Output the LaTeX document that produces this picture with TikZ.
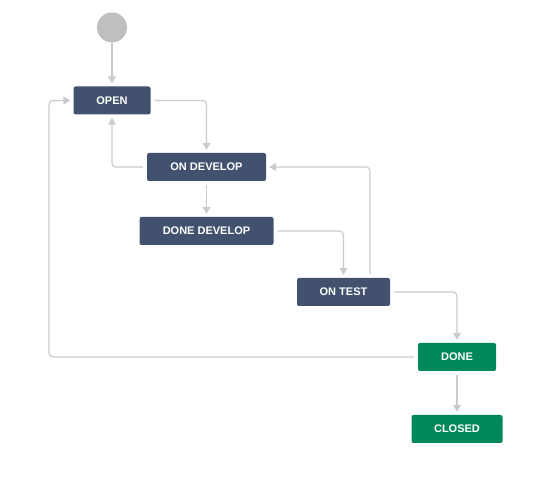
\documentclass[tikz,border=0pt]{standalone}
\usepackage{fontspec}
\setmainfont{Liberation Sans}
\usetikzlibrary{arrows.meta,calc}
\definecolor{stblue}{HTML}{42526E}
\definecolor{stgreen}{HTML}{00875A}
\definecolor{lnk}{HTML}{C8CBD0}
\definecolor{startc}{HTML}{BFBFBF}
\tikzset{
  state/.style={rectangle, rounded corners=2pt, text=white, inner sep=0pt,
    font=\fontsize{11}{13}\selectfont\bfseries, minimum height=28pt},
  todo/.style={state, fill=stblue},
  fin/.style={state, fill=stgreen},
  conn/.style={draw=lnk, line width=1.2pt, rounded corners=4pt,
    -{Triangle[width=8pt,length=7pt]}, shorten >=3pt, shorten <=4pt},
}
\begin{document}
\begin{tikzpicture}[x=1pt,y=-1pt]
\useasboundingbox (0,0) rectangle (558,478);
\node[circle, fill=startc, minimum size=30pt, inner sep=0pt] (start) at (112,27.5) {};
\node[todo, minimum width=77pt] (open) at (112,100.5) {OPEN};
\node[todo, minimum width=119pt] (ondev) at (206.5,167) {ON DEVELOP};
\node[todo, minimum width=134pt] (donedev) at (206.5,231) {DONE DEVELOP};
\node[todo, minimum width=93pt] (ontest) at (343.5,292) {ON TEST};
\node[fin, minimum width=78pt] (done) at (457,357) {DONE};
\node[fin, minimum width=91pt] (closed) at (457,429) {CLOSED};
\coordinate (lx) at (49,0);
\draw[conn, shorten <=0pt] (start.south) -- (open.north);
\draw[conn] (open.east) -| (ondev.north);
\draw[conn] (ondev.west) -| (open.south);
\draw[conn] (ondev.south) -- (donedev.north);
\draw[conn] (donedev.east) -| (ontest.north);
\draw[conn] ([xshift=26.5pt]ontest.north) |- (ondev.east);
\draw[conn] (ontest.east) -| (done.north);
\draw[conn] (done.west) -- (done.west -| lx) |- (open.west);
\draw[conn] (done.south) -- (closed.north);
\end{tikzpicture}
\end{document}
